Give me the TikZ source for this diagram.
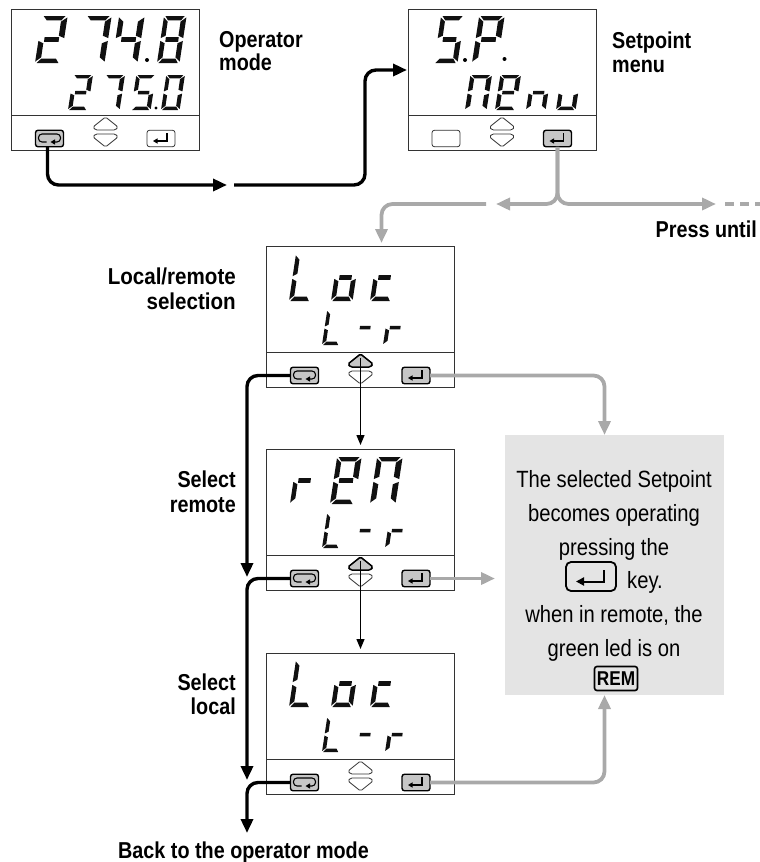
\documentclass[tikz,border=0pt]{standalone}
\usepackage{fontspec}
\setmainfont[FakeStretch=0.86]{Liberation Sans}
\usetikzlibrary{arrows.meta,calc}
\definecolor{linegray}{HTML}{A9A9A9}
\definecolor{keygray}{HTML}{C6C6C6}
\definecolor{boxgray}{HTML}{E4E4E4}
\definecolor{lcdblack}{HTML}{111111}
\def\sega{(.10,0)--(.94,0)--(.80,.095)--(.24,.095)--cycle}
\def\segb{(1.02,.03)--(1,.47)--(.78,.42)--(.79,.12)--cycle}
\def\segc{(1,.53)--(.98,.97)--(.77,.88)--(.78,.58)--cycle}
\def\segd{(.22,.905)--(.78,.905)--(.90,1)--(.06,1)--cycle}
\def\sege{(.02,.53)--(.22,.58)--(.21,.88)--(0,.97)--cycle}
\def\segf{(.04,.03)--(.23,.12)--(.22,.42)--(.02,.47)--cycle}
\def\segg{(.24,.45)--(.80,.45)--(.80,.55)--(.24,.55)--cycle}
% digit: x(bottom-left), top y, width, height, segments
\newcommand{\dgt}[5]{%
  \begin{scope}[shift={({#1+0.13*#4},#2)},xslant=0.13,xscale=#3,yscale=#4]
  \foreach \s in {#5}{\edef\tmpseg{\csname seg\s\endcsname}\fill[lcdblack] \tmpseg;}
  \end{scope}}
\newcommand{\enterglyph}[2]{%
  \draw[line width=1.1pt,-{Triangle[length=4.5pt,width=5pt]}] ({#1+6},{#2-5.5}) -- ({#1+6},{#2+2.5}) -- ({#1-8},{#2+2.5});}
\newcommand{\loopglyph}[2]{%
  \draw[line width=1.1pt,rounded corners=3.5pt,-{Triangle[length=4.5pt,width=5pt]}] ({#1-3},{#2+3.5}) -- ({#1-11},{#2+3.5}) -- ({#1-11},{#2-4.5}) -- ({#1+11},{#2-4.5}) -- ({#1+11},{#2+3.5}) -- ({#1+1},{#2+3.5});}
% panel: name, x, y, left style, right style, up style
\newcommand{\panel}[6]{%
  \begin{scope}[shift={(#2,#3)}]
  \node[panelbox,anchor=north west] (#1) at (0,0) {};
  \draw[thin line] (0,106) -- (188,106);
  \node[#4] (#1-L) at (38,129.5) {};
  \node[#5] (#1-R) at (149.5,129.5) {};
  \draw[#6,rounded corners=1.5pt] (94,108) -- (106.5,118) -- (104,121) -- (84,121) -- (81.5,118) -- cycle;
  \draw[thin line,rounded corners=1.5pt] (84,125) -- (104,125) -- (106.5,128) -- (94,138) -- (81.5,128) -- cycle;
  \coordinate (#1-U) at (94,112);
  \end{scope}}
\tikzset{
  x=1pt,y=-1pt,
  thin line/.style={line width=.8pt,draw=black!80},
  panelbox/.style={draw=black!80,line width=.9pt,minimum width=188pt,minimum height=141pt,inner sep=0pt,outer sep=0pt},
  keyon/.style={draw=black,fill=keygray,line width=1.4pt,rounded corners=2.5pt,minimum width=28pt,minimum height=16.5pt,inner sep=0pt,outer sep=0pt},
  keyoff/.style={draw=black!80,fill=white,line width=.8pt,rounded corners=2.5pt,minimum width=28pt,minimum height=16.5pt,inner sep=0pt,outer sep=0pt},
  upoff/.style={thin line},
  upon/.style={draw=black,fill=keygray,line width=1.5pt},
  blackline/.style={line width=3.4pt,rounded corners=11pt,-{Triangle[length=14pt,width=12pt]}},
  grayline/.style={draw=linegray,line width=3.8pt,rounded corners=11pt,-{Triangle[length=14pt,width=12pt]}},
  arrowthin/.style={line width=1.3pt,-{Triangle[length=10pt,width=8pt]},shorten >=4pt},
  lbl/.style={font=\bfseries\fontsize{23}{24}\selectfont,inner sep=0pt},
  txt/.style={font=\fontsize{23.5}{33.7}\selectfont,inner sep=0pt},
}
\begin{document}
\begin{tikzpicture}
\useasboundingbox (0,0) rectangle (760,862);
% panels
\panel{pa}{11.5}{9}{keyon}{keyoff}{upoff}
\panel{pb}{408}{9}{keyoff}{keyon}{upoff}
\panel{pc}{266.5}{246}{keyon}{keyon}{upon}
\panel{pd}{266.5}{449}{keyon}{keyon}{upon}
\panel{pe}{266.5}{653}{keyon}{keyon}{upoff}
% key glyphs
\loopglyph{49.5}{138.5}\enterglyph{161}{138.5}
\enterglyph{557.5}{138.5}
\loopglyph{304.5}{375.5}\enterglyph{416}{375.5}
\loopglyph{304.5}{578.5}\enterglyph{416}{578.5}
\loopglyph{304.5}{782.5}\enterglyph{416}{782.5}
% display 1
\dgt{35}{16}{26}{47}{a,b,g,e,d}
\dgt{79}{16}{26}{47}{a,b,c}
\dgt{112}{16}{26}{47}{b,c,f,g}
\dgt{157}{16}{23}{47}{a,b,c,d,e,f,g}
\fill (147,60) circle (2pt);
\dgt{68}{75}{20}{35}{a,b,g,e,d}
\dgt{100}{75}{20}{35}{a,b,c}
\dgt{131}{75}{20}{35}{a,c,d,f,g}
\dgt{161}{75}{19}{35}{a,b,c,d,e,f}
\fill (156,108) circle (1.7pt);
% display 2
\dgt{434}{16}{24}{47}{a,c,d,f,g}
\fill (465,60) circle (2pt);
\dgt{472}{16}{26}{47}{a,b,e,f,g}
\fill (504.5,59) circle (2pt);
\dgt{465}{75}{22}{35}{a,b,c,e,f}
\dgt{495}{75}{21}{35}{a,b,d,e,f,g}
\dgt{526}{75}{20}{35}{c,e,g}
\dgt{556}{75}{20}{35}{c,d,e}
% display 3
\dgt{289}{254}{22}{47}{d,e,f}
\dgt{331}{254}{22}{47}{c,d,e,g}
\dgt{370}{254}{22}{47}{d,e,g}
\dgt{322}{310}{18}{35}{d,e,f}
\dgt{353}{310}{19}{35}{g}
\dgt{383}{310}{19}{35}{e,g}
% display 4
\dgt{290}{457}{22}{47}{e,g}
\dgt{330}{457}{25}{47}{a,b,d,e,f,g}
\dgt{370}{457}{26}{47}{a,b,c,e,f}
\dgt{322}{513}{18}{35}{d,e,f}
\dgt{353}{513}{19}{35}{g}
\dgt{385}{513}{19}{35}{e,g}
% display 5
\dgt{289}{660}{22}{47}{d,e,f}
\dgt{331}{660}{22}{47}{c,d,e,g}
\dgt{370}{660}{22}{47}{d,e,g}
\dgt{322}{717}{18}{35}{d,e,f}
\dgt{353}{717}{19}{35}{g}
\dgt{385}{717}{19}{35}{e,g}
% gray box
\node[fill=boxgray,anchor=north west,minimum width=219pt,minimum height=260pt,inner sep=0pt,outer sep=0pt] (note) at (505,435) {};
\node[txt,anchor=base] (nt1) at (614,487) {The selected Setpoint};
\node[txt,anchor=base] (nt2) at (614,521) {becomes operating};
\node[txt,anchor=base] (nt3) at (614,555) {pressing the};
\node[draw,line width=1.8pt,rounded corners=5pt,minimum width=50pt,minimum height=29pt,inner sep=0pt] (bigkey) at (591,576.5) {};
\draw[line width=2pt,-{Triangle[length=8pt,width=8pt]}] (604,570) -- (604,581.5) -- (576,581.5);
\node[txt,anchor=base west] (nt4) at (627,588) {key.};
\node[txt,anchor=base] (nt5) at (614,622) {when in remote, the};
\node[txt,anchor=base] (nt6) at (614,656) {green led is on};
\node[draw,line width=1.6pt,rounded corners=2.5pt,minimum width=43pt,minimum height=24pt,inner sep=0pt,font=\bfseries\fontsize{20}{20}\selectfont] (rem) at (616,678.5) {REM};
% labels
\node[lbl,anchor=base west] (l1a) at (219,47) {Operator};
\node[lbl,anchor=base west] (l1b) at (219,70) {mode};
\node[lbl,anchor=base west] (l2a) at (612,48) {Setpoint};
\node[lbl,anchor=base west] (l2b) at (612,72) {menu};
\node[lbl,anchor=base east] (l3) at (757,237) {Press until};
\node[lbl,anchor=base east,xscale=1.04] (l4a) at (236,284) {Local/remote};
\node[lbl,anchor=base east,xscale=1.04] (l4b) at (236,309) {selection};
\node[lbl,anchor=base east] (l5a) at (236,487) {Select};
\node[lbl,anchor=base east] (l5b) at (236,512) {remote};
\node[lbl,anchor=base east] (l6a) at (236,690) {Select};
\node[lbl,anchor=base east] (l6b) at (236,714) {local};
\node[lbl,anchor=base west] (l7) at (118,858) {Back to the operator mode};
% free ends
\coordinate (aEnd) at (227,185);
\coordinate (aStart) at (234,185);
\coordinate (aIn) at (407,70);
\coordinate (fL) at (496,204);
\coordinate (fR) at (716,204);
\coordinate (gS) at (486,204);
\coordinate (dS) at (725,204);
\coordinate (dE) at (760,204);
\coordinate (g3) at (604.5,435);
\coordinate (g4) at (495,578.5);
\coordinate (g5) at (604.5,695);
\coordinate (c3) at (247,577);
\coordinate (c4) at (247,780);
\coordinate (c5) at (247,833);
% connectors
\draw[blackline] ([xshift=-2pt]pa-L.south) |- (aEnd);
\draw[blackline] (aStart) -| (365,70) -- (aIn);
\draw[grayline] (pb-R.south) |- (fL);
\draw[grayline] (pb-R.south) |- (fR);
\draw[draw=linegray,line width=3.8pt,dash pattern=on 9pt off 6pt] (dS) -- (dE);
\draw[grayline,shorten >=3pt] (gS) -| (pc.north -| 381.5,246);
\draw[arrowthin] (pc-U) -- (pd.north);
\draw[arrowthin] (pd-U) -- (pe.north);
\draw[blackline] (pc-L.west) -| (c3);
\draw[blackline] (pd-L.west) -| (c4);
\draw[blackline] (pe-L.west) -| (c5);
\draw[grayline] (pc-R.east) -| (g3);
\draw[draw=linegray,line width=3.8pt,-{Triangle[length=14pt,width=12pt]}] (pd-R.east) -- (g4);
\draw[grayline] (pe-R.east) -| (g5);
\end{tikzpicture}
\end{document}
